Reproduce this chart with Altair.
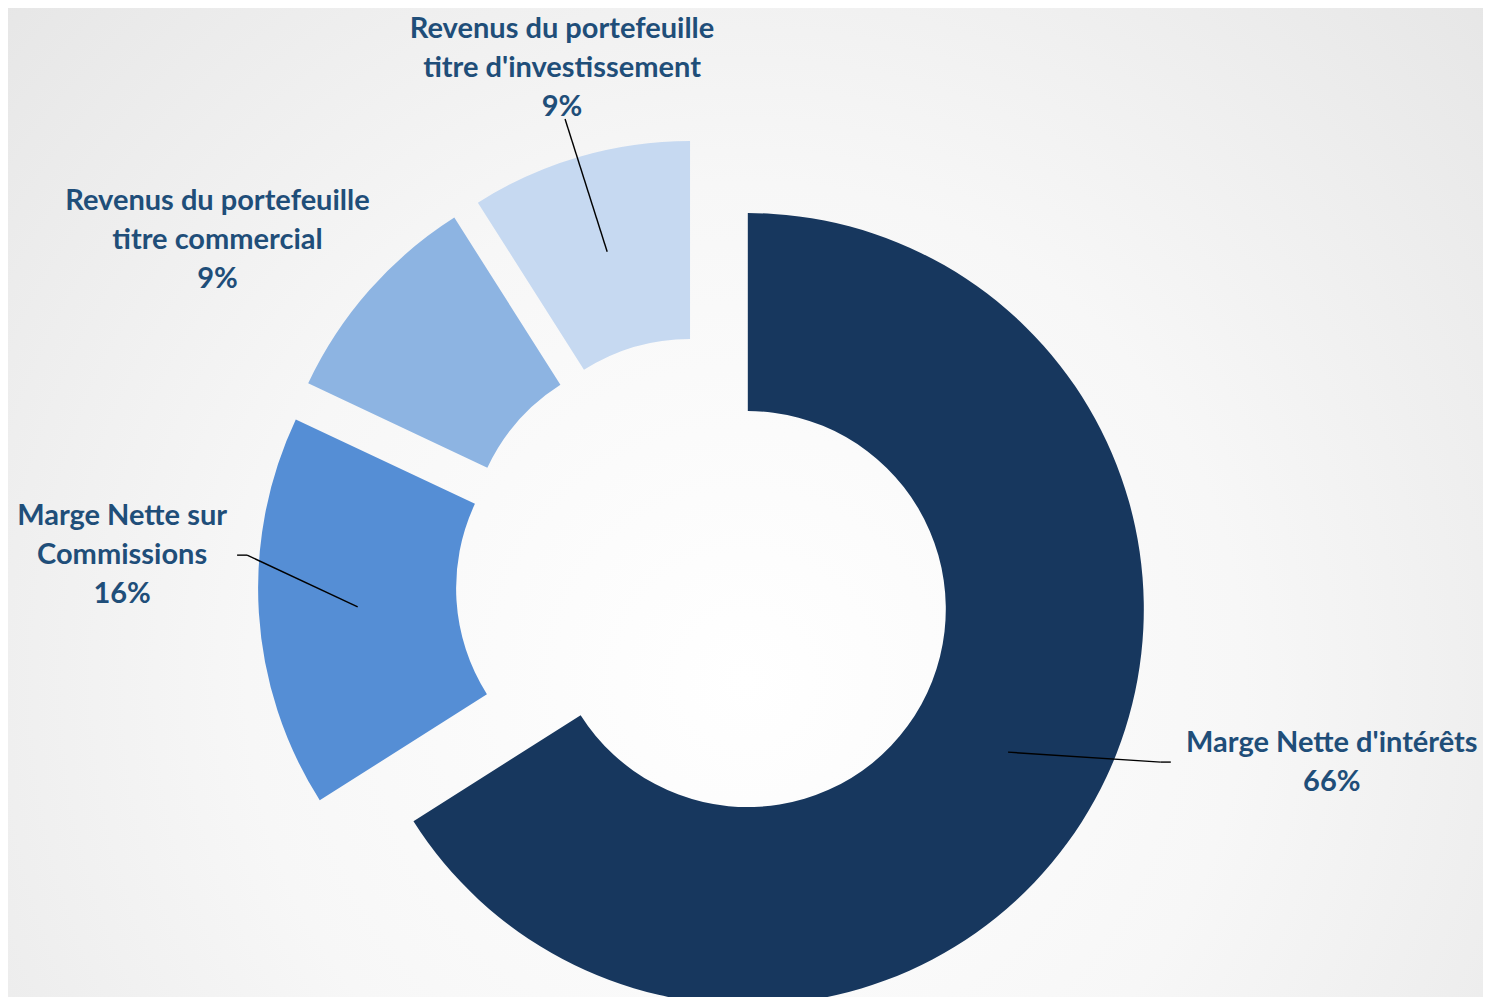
import altair as alt
import pandas as pd

# ---- data -------------------------------------------------------------
categories = [
    "Marge Nette d'intérêts",
    "Marge Nette sur Commissions",
    "Revenus du portefeuille titre commercial",
    "Revenus du portefeuille titre d'investissement",
]
label_text = [
    "Marge Nette d'intérêts",
    "Marge Nette sur\nCommissions",
    "Revenus du portefeuille\ntitre commercial",
    "Revenus du portefeuille\ntitre d'investissement",
]
shares = [66, 16, 9, 9]
order = [1, 2, 3, 4]

# ---- styling / layout ---------------------------------------------------
colors = ["#17375E", "#558ED5", "#8DB4E2", "#C6D9F1"]
# label block placement relative to each slice's own centre (px)
label_dx = [584, -532, -449, -128]
label_dy = [153, -33, -312, -469]
# leader-line end relative to the label centre, and short horizontal elbow
has_line = [1, 1, 0, 1]
line_end_dx = [-161, 115, 0, 3]
line_end_dy = [0, 0, 0, 51]
elbow_dx = [-10, 10, 0, 0]

W, H = 1475, 989
CX, CY = 696, 577          # donut centre in chart px
EXPLODE = 50               # slice explosion distance
R_OUT, R_IN = 396, 198
R_MID = (R_OUT + R_IN) / 2
LINE_H = 39
TEXT_COLOR = "#1F4E79"

df = pd.DataFrame({
    "category": categories,
    "label": label_text,
    "share": shares,
    "order": order,
    "label_dx": label_dx,
    "label_dy": label_dy,
    "has_line": has_line,
    "line_end_dx": line_end_dx,
    "line_end_dy": line_end_dy,
    "elbow_dx": elbow_dx,
})

base = alt.Chart(df).transform_window(
    cum="sum(share)", sort=[alt.SortField("order")], frame=[None, 0]
).transform_joinaggregate(
    total="sum(share)"
).transform_calculate(
    t0="2*PI*(datum.cum-datum.share)/datum.total",
    t1="2*PI*datum.cum/datum.total",
    mid="(datum.t0+datum.t1)/2",
    cx=f"{CX}+{EXPLODE}*sin(datum.mid)",
    cy=f"{CY}-{EXPLODE}*cos(datum.mid)",
    lx0=f"datum.cx+{R_MID}*sin(datum.mid)",
    ly0=f"datum.cy-{R_MID}*cos(datum.mid)",
    tx="datum.cx+datum.label_dx",
    ty="datum.cy+datum.label_dy",
    ex="datum.tx+datum.line_end_dx",
    ey="datum.ty+datum.line_end_dy",
    bx="datum.ex+datum.elbow_dx",
    txt="datum.label+'\\n'+datum.share+'%'",
    nlines="length(split(datum.txt,'\\n'))",
    ty_first=f"datum.ty-(datum.nlines-1)*{LINE_H}/2",
)

bg = alt.Chart(pd.DataFrame({"a": [0]})).mark_rect(
    fill={
        "gradient": "radial",
        "x1": 0.5, "y1": 0.62, "r1": 0,
        "x2": 0.5, "y2": 0.62, "r2": 0.75,
        "stops": [
            {"offset": 0, "color": "#FFFFFF"},
            {"offset": 0.45, "color": "#F7F7F7"},
            {"offset": 1, "color": "#E3E3E3"},
        ],
    }
).encode(
    x=alt.value(0), x2=alt.value(W), y=alt.value(0), y2=alt.value(H)
)

arcs = base.mark_arc(innerRadius=R_IN, outerRadius=R_OUT).encode(
    theta=alt.Theta("t0:Q", scale=None, stack=False),
    theta2="t1:Q",
    x=alt.X("cx:Q", scale=None, axis=None),
    y=alt.Y("cy:Q", scale=None, axis=None),
    color=alt.Color("category:N", scale=alt.Scale(domain=categories, range=colors), legend=None),
)

lines = base.transform_filter("datum.has_line == 1")
rule1 = lines.mark_rule(color="black", strokeWidth=1.4).encode(
    x=alt.X("lx0:Q", scale=None, axis=None),
    y=alt.Y("ly0:Q", scale=None, axis=None),
    x2="bx:Q",
    y2="ey:Q",
)
rule2 = lines.mark_rule(color="black", strokeWidth=1.4).encode(
    x=alt.X("bx:Q", scale=None, axis=None),
    y=alt.Y("ey:Q", scale=None, axis=None),
    x2="ex:Q",
    y2="ey:Q",
)

labels = base.mark_text(
    font="Lato", fontWeight="bold", fontSize=29, color=TEXT_COLOR,
    align="center", baseline="middle", lineBreak="\n", lineHeight=LINE_H,
).encode(
    x=alt.X("tx:Q", scale=None, axis=None),
    y=alt.Y("ty_first:Q", scale=None, axis=None),
    text="txt:N",
)

chart = alt.layer(bg, arcs, rule1, rule2, labels).properties(
    width=W, height=H, padding=0,
    autosize=alt.AutoSizeParams(type="none"),
).configure_view(stroke=None)

chart.save("out.html", embed_options={"renderer": "svg", "actions": False})
